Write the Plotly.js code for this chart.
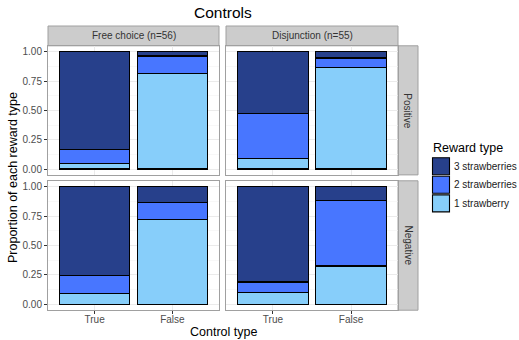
<!DOCTYPE html>
<html>
<head>
<meta charset="utf-8">
<script src="https://cdn.plot.ly/plotly-3.0.1.min.js"></script>
<style>html,body{margin:0;padding:0;background:#fff;}#chart{width:519px;height:340px;}</style>
</head>
<body>
<div id="chart"></div>
<script>
// ---- data ----
const categories = ['True', 'False'];
const columnLabels = ['Free choice (n=56)', 'Disjunction (n=55)'];
const rowLabels = ['Positive', 'Negative'];
const rewardTypes = ['1 strawberry', '2 strawberries', '3 strawberries'];
const rewardColors = ['#87CEFA', '#4876FF', '#27408B'];

// proportions per panel: [True, False]
const freePos1 = [0.051, 0.812];
const freePos2 = [0.119, 0.151];
const freePos3 = [0.830, 0.037];

const disPos1 = [0.091, 0.864];
const disPos2 = [0.380, 0.082];
const disPos3 = [0.529, 0.054];

const freeNeg1 = [0.090, 0.723];
const freeNeg2 = [0.156, 0.141];
const freeNeg3 = [0.754, 0.136];

const disNeg1 = [0.099, 0.326];
const disNeg2 = [0.091, 0.555];
const disNeg3 = [0.810, 0.119];

const yTicks = [0, 0.25, 0.5, 0.75, 1];
const yTickText = ['0.00', '0.25', '0.50', '0.75', '1.00'];

// ---- layout helpers ----
const W = 519, H = 340;
const px = v => v / W;
const py = v => 1 - v / H;
const colX = [[48, 219], [226, 398]];
const rowY = [[45.8, 174.9], [180.8, 310.2]];

const panels = [
  {row: 0, col: 0, vals: [freePos1, freePos2, freePos3]},
  {row: 0, col: 1, vals: [disPos1, disPos2, disPos3]},
  {row: 1, col: 0, vals: [freeNeg1, freeNeg2, freeNeg3]},
  {row: 1, col: 1, vals: [disNeg1, disNeg2, disNeg3]}
];

const FONT = 'Liberation Sans, Arial, Helvetica, sans-serif';
const traces = [];
const layout = {
  width: W, height: H,
  margin: {l: 0, r: 0, t: 0, b: 0},
  paper_bgcolor: '#ffffff', plot_bgcolor: '#ffffff',
  barmode: 'stack', bargap: 0.1,
  showlegend: false,
  font: {family: FONT, size: 10, color: '#4d4d4d'},
  shapes: [], annotations: []
};

panels.forEach((p, i) => {
  const n = i + 1;
  const xa = 'xaxis' + (n === 1 ? '' : n);
  const ya = 'yaxis' + (n === 1 ? '' : n);
  const xr = 'x' + (n === 1 ? '' : n);
  const yr = 'y' + (n === 1 ? '' : n);
  p.vals.forEach((v, k) => {
    traces.push({
      type: 'bar', x: categories, y: v, name: rewardTypes[k],
      xaxis: xr, yaxis: yr, width: 0.9,
      marker: {color: rewardColors[k], line: {color: '#000000', width: 1.1}},
      hoverinfo: 'skip'
    });
  });
  const bottom = p.row === 1, left = p.col === 0;
  layout[xa] = {
    domain: [px(colX[p.col][0]), px(colX[p.col][1])],
    anchor: yr, type: 'category', categoryorder: 'array', categoryarray: categories,
    range: [-0.6, 1.6], fixedrange: true,
    showgrid: true, gridcolor: '#ebebeb', gridwidth: 1,
    showline: true, mirror: true, linecolor: '#a0a0a0', linewidth: 1,
    showticklabels: bottom, ticks: bottom ? 'outside' : '', ticklen: 3, tickcolor: '#333333',
    ticklabelstandoff: -3,
    tickfont: {family: FONT, size: 10, color: '#4d4d4d'}, zeroline: false
  };
  layout[ya] = {
    domain: [py(rowY[p.row][1]), py(rowY[p.row][0])],
    anchor: xr, range: [-0.05, 1.05], fixedrange: true,
    tickmode: 'array', tickvals: yTicks, ticktext: yTickText,
    showgrid: true, gridcolor: '#ebebeb', gridwidth: 1,
    minor: {tick0: 0.125, dtick: 0.25, showgrid: true, gridcolor: '#f3f3f3', gridwidth: 0.6, ticks: ''},
    showline: true, mirror: true, linecolor: '#a0a0a0', linewidth: 1,
    showticklabels: left, ticks: left ? 'outside' : '', ticklen: 3, tickcolor: '#333333',
    tickfont: {family: FONT, size: 10, color: '#4d4d4d'}, zeroline: false
  };
});

// strips: top
columnLabels.forEach((lab, c) => {
  layout.shapes.push({type: 'rect', xref: 'paper', yref: 'paper',
    x0: px(colX[c][0]), x1: px(colX[c][1]), y0: py(45.8), y1: py(26),
    fillcolor: '#cccccc', line: {color: '#a0a0a0', width: 1}, layer: 'below'});
  layout.annotations.push({xref: 'paper', yref: 'paper', x: px((colX[c][0] + colX[c][1]) / 2), y: py(36),
    text: lab, showarrow: false, xanchor: 'center', yanchor: 'middle',
    font: {family: FONT, size: 10, color: '#333333'}});
});
// strips: right
rowLabels.forEach((lab, r) => {
  layout.shapes.push({type: 'rect', xref: 'paper', yref: 'paper',
    x0: px(398), x1: px(418), y0: py(rowY[r][1]), y1: py(rowY[r][0]),
    fillcolor: '#cccccc', line: {color: '#a0a0a0', width: 1}, layer: 'below'});
  layout.annotations.push({xref: 'paper', yref: 'paper', x: px(408), y: py((rowY[r][0] + rowY[r][1]) / 2),
    text: lab, showarrow: false, textangle: 90, xanchor: 'center', yanchor: 'middle',
    font: {family: FONT, size: 10, color: '#333333'}});
});

// titles
layout.annotations.push({xref: 'paper', yref: 'paper', x: px(223), y: py(13), text: 'Controls',
  showarrow: false, xanchor: 'center', yanchor: 'middle', font: {family: FONT, size: 15.5, color: '#000000'}});
layout.annotations.push({xref: 'paper', yref: 'paper', x: px(223), y: py(332), text: 'Control type',
  showarrow: false, xanchor: 'center', yanchor: 'middle', font: {family: FONT, size: 12.5, color: '#000000'}});
layout.annotations.push({xref: 'paper', yref: 'paper', x: px(13), y: py(178), text: 'Proportion of each reward type',
  showarrow: false, textangle: -90, xanchor: 'center', yanchor: 'middle', font: {family: FONT, size: 12.5, color: '#000000'}});

// legend (manual, ggplot style): top item = 3 strawberries
layout.annotations.push({xref: 'paper', yref: 'paper', x: px(431), y: py(148), text: 'Reward type',
  showarrow: false, xanchor: 'left', yanchor: 'middle', font: {family: FONT, size: 12.5, color: '#000000'}});
const legendOrder = [2, 1, 0];
legendOrder.forEach((k, j) => {
  const top = 157.7 + j * 18.6;
  layout.shapes.push({type: 'rect', xref: 'paper', yref: 'paper',
    x0: px(432.5), x1: px(449.5), y0: py(top + 17), y1: py(top),
    fillcolor: rewardColors[k], line: {color: '#000000', width: 1.1}});
  layout.annotations.push({xref: 'paper', yref: 'paper', x: px(452), y: py(top + 8.5), text: rewardTypes[k],
    showarrow: false, xanchor: 'left', yanchor: 'middle', font: {family: FONT, size: 10, color: '#1a1a1a'}});
});

Plotly.newPlot('chart', traces, layout, {staticPlot: true, displayModeBar: false});
</script>
</body>
</html>
